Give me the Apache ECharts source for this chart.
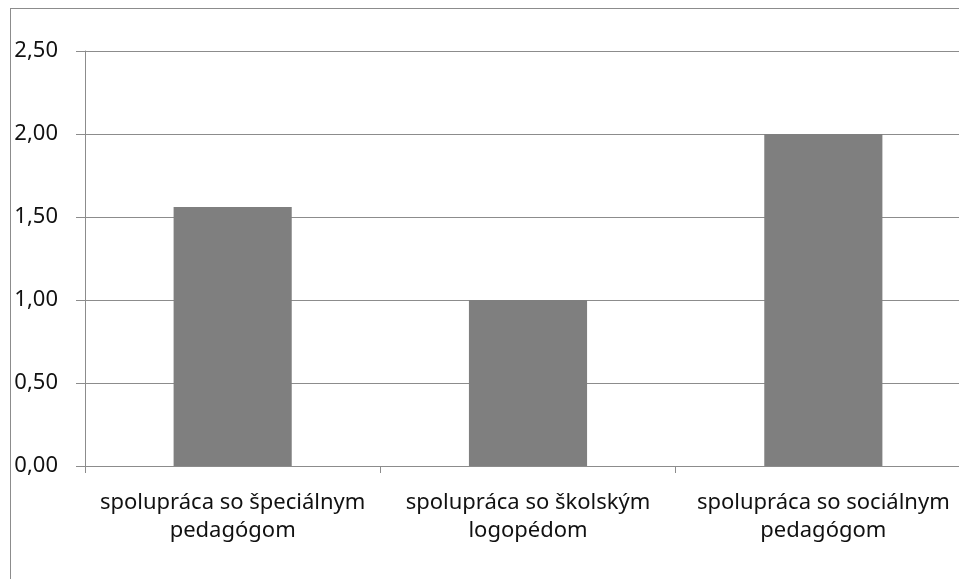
<!DOCTYPE html>
<html>
<head>
<meta charset="utf-8">
<script src="https://cdn.jsdelivr.net/npm/echarts@6/dist/echarts.min.js"></script>
<style>
  html, body { margin: 0; padding: 0; background: #fff; overflow: hidden; width: 959px; height: 579px; }
  #frame { position: absolute; left: 10px; top: 8px; width: 949px; height: 571px;
           border-left: 1px solid #8c8c8c; border-top: 1px solid #8c8c8c; }
  /* plot runs a bit past the right edge, like the reference */
  #chart { position: absolute; left: 0; top: 0; width: 971px; height: 579px; }
</style>
</head>
<body>
<div id="frame"></div>
<div id="chart"></div>
<script>
// data
const categories = [
  'spolupráca so špeciálnym\npedagógom',
  'spolupráca so školským\nlogopédom',
  'spolupráca so sociálnym\npedagógom'
]
const values = [1.56, 1.00, 2.00]
const yTicks = { min: 0, max: 2.5, step: 0.5 }

const chart = echarts.init(document.getElementById('chart'))
chart.setOption({
  animation: false,
  textStyle: { fontFamily: 'Noto Sans' },
  grid: { left: 85, top: 51, bottom: 113, right: 0 },
  xAxis: {
    type: 'category',
    data: categories,
    axisLine: { show: true, lineStyle: { color: '#8c8c8c' } },
    axisTick: { show: true, length: 7, lineStyle: { color: '#8c8c8c' } },
    axisLabel: {
      interval: 0,
      color: '#111',
      fontSize: 22,
      lineHeight: 28,
      margin: 23
    }
  },
  yAxis: {
    type: 'value',
    min: yTicks.min,
    max: yTicks.max,
    interval: yTicks.step,
    axisLine: { show: true, lineStyle: { color: '#8c8c8c' } },
    axisTick: { show: true, length: 9, lineStyle: { color: '#8c8c8c' } },
    splitLine: { show: true, lineStyle: { color: '#8c8c8c' } },
    axisLabel: {
      color: '#111',
      fontSize: 22,
      margin: 27,
      formatter: function (v) { return v.toFixed(2).replace('.', ',') }
    }
  },
  series: [{
    type: 'bar',
    data: values,
    barWidth: '40%',
    itemStyle: { color: '#7f7f7f' }
  }]
})
</script>
</body>
</html>
